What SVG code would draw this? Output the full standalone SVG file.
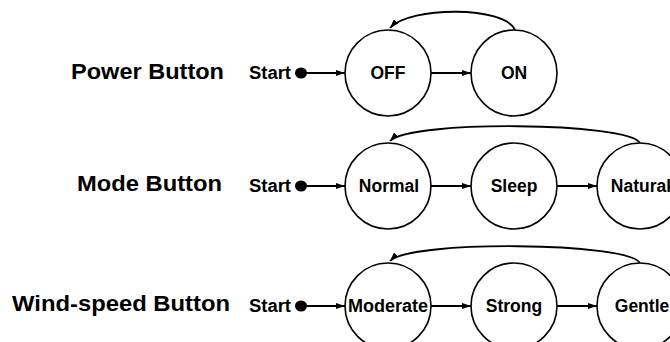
<svg xmlns="http://www.w3.org/2000/svg" width="670" height="342" viewBox="0 0 670 342">
<style>
.st{fill:#fff;stroke:#000;stroke-width:1.6}
.lbl{font-family:"Liberation Sans",Arial,sans-serif;font-weight:bold;font-size:17.5px;fill:#000;text-anchor:middle}
.start{font-family:"Liberation Sans",Arial,sans-serif;font-weight:bold;font-size:18px;fill:#000}
.title{font-family:"Liberation Sans",Arial,sans-serif;font-weight:bold;font-size:22.5px;fill:#000}
.c{fill:none;stroke:#000;stroke-width:2;marker-end:url(#ah)}
.a{fill:none;stroke:#000;stroke-width:1.8;marker-end:url(#ah)}
</style>
<defs>
<marker id="ah" markerUnits="userSpaceOnUse" markerWidth="9" markerHeight="6" refX="9" refY="3" orient="auto">
<path d="M0,0 L9,3 L0,6 z" fill="#000"/>
</marker>
</defs>
<rect width="670" height="342" fill="#fff"/>
<text class="title" x="71" y="79" textLength="153" lengthAdjust="spacingAndGlyphs">Power Button</text>
<text class="title" x="77" y="191" textLength="145" lengthAdjust="spacingAndGlyphs">Mode Button</text>
<text class="title" x="12" y="311" textLength="218" lengthAdjust="spacingAndGlyphs">Wind-speed Button</text>
<g id="start1"><text class="start" x="249" y="79" textLength="42" lengthAdjust="spacingAndGlyphs">Start</text><ellipse cx="301" cy="73" rx="6" ry="5.5"/></g>
<g id="start2"><text class="start" x="249" y="192" textLength="42" lengthAdjust="spacingAndGlyphs">Start</text><ellipse cx="301" cy="186" rx="6" ry="5.5"/></g>
<g id="start3"><text class="start" x="249" y="312" textLength="42" lengthAdjust="spacingAndGlyphs">Start</text><ellipse cx="301" cy="306" rx="6" ry="5.5"/></g>
<g id="off"><circle class="st" cx="388" cy="73" r="43"/><text class="lbl" x="388" y="79">OFF</text></g>
<g id="on"><circle class="st" cx="514" cy="73" r="43"/><text class="lbl" x="514" y="79">ON</text></g>
<g id="normal"><circle class="st" cx="388" cy="186" r="43"/><text class="lbl" x="389" y="192">Normal</text></g>
<g id="sleep"><circle class="st" cx="514" cy="186" r="43"/><text class="lbl" x="514" y="192">Sleep</text></g>
<g id="natural"><circle class="st" cx="640" cy="186" r="43"/><text class="lbl" x="641" y="192">Natural</text></g>
<g id="moderate"><circle class="st" cx="388" cy="306" r="43"/><text class="lbl" x="388" y="312" textLength="80" lengthAdjust="spacingAndGlyphs">Moderate</text></g>
<g id="strong"><circle class="st" cx="514" cy="306" r="43"/><text class="lbl" x="514" y="312">Strong</text></g>
<g id="gentle"><circle class="st" cx="640" cy="306" r="43"/><text class="lbl" x="642" y="312">Gentle</text></g>
<g id="connectors">
<line class="c" x1="306" y1="73" x2="345" y2="73"/>
<line class="c" x1="431" y1="73" x2="471" y2="73"/>
<path class="a" d="M515,30 C505,6 410,6 390,28"/>
<line class="c" x1="306" y1="186" x2="345" y2="186"/>
<line class="c" x1="431" y1="186" x2="471" y2="186"/>
<line class="c" x1="557" y1="186" x2="597" y2="186"/>
<path class="a" d="M640,143 C628,122 410,120 390,141"/>
<line class="c" x1="306" y1="306" x2="345" y2="306"/>
<line class="c" x1="431" y1="306" x2="471" y2="306"/>
<line class="c" x1="557" y1="306" x2="597" y2="306"/>
<path class="a" d="M640,263 C628,242 410,240 390,261"/>
</g>
</svg>
